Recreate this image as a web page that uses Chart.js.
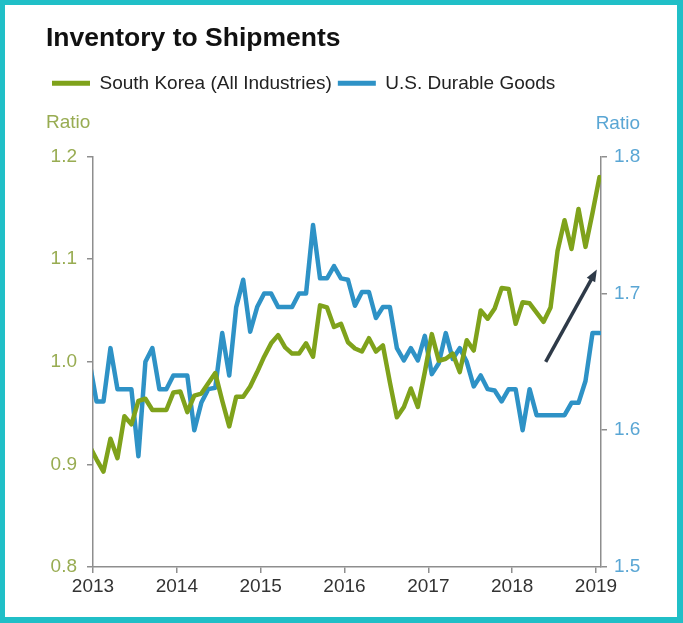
<!DOCTYPE html>
<html>
<head>
<meta charset="utf-8">
<title>Inventory to Shipments</title>
<script src="https://cdn.jsdelivr.net/npm/chart.js@4.4.1/dist/chart.umd.min.js"></script>
<style>
  html, body { margin: 0; padding: 0; background: #fff; }
  #wrap { position: relative; width: 683px; height: 623px; }
  #frame {
    position: absolute; inset: 0; pointer-events: none;
    border-style: solid; border-color: #20bfc7;
    border-width: 5px 6px 6px 5px;
  }
  canvas { display: block; }
</style>
</head>
<body>
<div id="wrap">
  <canvas id="chart" width="683" height="623"></canvas>
  <div id="frame"></div>
</div>
<script>
// monthly readings, first point half a month before the 2013 tick
const startYear = 2013;
const yearTicks = [2013, 2014, 2015, 2016, 2017, 2018, 2019];

const southKorea = [
  0.918, 0.905, 0.893, 0.925, 0.906, 0.947, 0.939, 0.962, 0.964, 0.953, 0.953, 0.953,
  0.970, 0.971, 0.951, 0.967, 0.969, 0.979, 0.989, 0.962, 0.937, 0.966, 0.966, 0.976,
  0.990, 1.005, 1.018, 1.026, 1.014, 1.008, 1.008, 1.018, 1.005, 1.055, 1.053, 1.034,
  1.037, 1.019, 1.013, 1.010, 1.023, 1.010, 1.016, 0.980, 0.946, 0.956, 0.974, 0.956,
  0.990, 1.027, 1.001, 1.003, 1.008, 0.990, 1.021, 1.011, 1.050, 1.042, 1.052, 1.072,
  1.071, 1.037, 1.058, 1.057, 1.048, 1.039, 1.053, 1.108, 1.138, 1.110, 1.149, 1.112,
  1.145, 1.180
];

const usDurable = [
  1.650, 1.621, 1.621, 1.660, 1.630, 1.630, 1.630, 1.581, 1.650, 1.660, 1.630, 1.630,
  1.640, 1.640, 1.640, 1.600, 1.620, 1.630, 1.631, 1.671, 1.640, 1.690, 1.710, 1.672,
  1.690, 1.700, 1.700, 1.690, 1.690, 1.690, 1.700, 1.700, 1.750, 1.711, 1.711, 1.720,
  1.711, 1.710, 1.691, 1.701, 1.701, 1.682, 1.690, 1.690, 1.660, 1.651, 1.660, 1.651,
  1.669, 1.641, 1.649, 1.671, 1.652, 1.660, 1.650, 1.632, 1.640, 1.630, 1.629, 1.621,
  1.630, 1.630, 1.600, 1.630, 1.611, 1.611, 1.611, 1.611, 1.611, 1.620, 1.620, 1.636,
  1.671, 1.671
];

// trend arrow, in data units (x = year, y = left axis)
const arrowFrom = [2018.4, 1.0];
const arrowTo = [2019.01, 1.09];

const GREEN = '#7fa21b';
const BLUE = '#2e92c6';
const GREEN_TEXT = '#98ac52';
const BLUE_TEXT = '#5aa6d4';
const AXIS = '#8e8e8e';
const FONT = "'Liberation Sans', Arial, sans-serif";

function toPoints(values) {
  return values.map((v, i) => ({ x: startYear + (i - 0.5) / 12, y: v }));
}

const extraText = {
  id: 'extraText',
  afterDatasetsDraw(chart) {
    const { ctx, scales } = chart;
    // arrow
    const x0 = scales.x.getPixelForValue(arrowFrom[0]);
    const y0 = scales.y.getPixelForValue(arrowFrom[1]);
    const x1 = scales.x.getPixelForValue(arrowTo[0]);
    const y1 = scales.y.getPixelForValue(arrowTo[1]);
    const ang = Math.atan2(y1 - y0, x1 - x0);
    const head = 13;
    ctx.save();
    ctx.strokeStyle = '#2e3a48';
    ctx.fillStyle = '#2e3a48';
    ctx.lineWidth = 3.5;
    ctx.beginPath();
    ctx.moveTo(x0, y0);
    ctx.lineTo(x1 - Math.cos(ang) * head * 0.8, y1 - Math.sin(ang) * head * 0.8);
    ctx.stroke();
    ctx.beginPath();
    ctx.moveTo(x1, y1);
    ctx.lineTo(x1 - head * Math.cos(ang - 0.38), y1 - head * Math.sin(ang - 0.38));
    ctx.lineTo(x1 - head * Math.cos(ang + 0.38), y1 - head * Math.sin(ang + 0.38));
    ctx.closePath();
    ctx.fill();
    ctx.restore();
  },
  afterDraw(chart) {
    const { ctx, chartArea } = chart;
    ctx.save();
    ctx.font = `19px ${FONT}`;
    ctx.fillStyle = BLUE_TEXT;
    ctx.textAlign = 'right';
    ctx.textBaseline = 'middle';
    ctx.fillText('Ratio', chartArea.right + 39, chartArea.top - 33);
    ctx.restore();
  }
};

new Chart(document.getElementById('chart'), {
  type: 'line',
  data: {
    datasets: [
      {
        label: 'South Korea (All Industries)',
        data: toPoints(southKorea),
        borderColor: GREEN,
        backgroundColor: GREEN,
        borderWidth: 4.5,
        borderJoinStyle: 'round',
        borderCapStyle: 'round',
        pointRadius: 0,
        tension: 0,
        yAxisID: 'y'
      },
      {
        label: 'U.S. Durable Goods',
        data: toPoints(usDurable),
        borderColor: BLUE,
        backgroundColor: BLUE,
        borderWidth: 4.5,
        borderJoinStyle: 'round',
        borderCapStyle: 'round',
        pointRadius: 0,
        tension: 0,
        yAxisID: 'y2'
      }
    ]
  },
  options: {
    animation: false,
    responsive: false,
    layout: { padding: { left: 46, right: 0, top: 0, bottom: 0 } },
    plugins: {
      title: {
        display: true,
        text: 'Inventory to Shipments',
        align: 'start',
        color: '#111',
        font: { family: FONT, size: 26.5, weight: 'bold' },
        padding: { top: 23, bottom: 13 }
      },
      legend: {
        display: true,
        align: 'start',
        labels: {
          boxWidth: 38,
          boxHeight: 5,
          padding: 6,
          color: '#222',
          font: { family: FONT, size: 19 },
          generateLabels(chart) {
            return Chart.defaults.plugins.legend.labels.generateLabels(chart)
              .map((item) => ({ ...item, lineWidth: 0 }));
          }
        }
      },
      subtitle: {
        display: true,
        text: 'Ratio',
        align: 'start',
        weight: 500,
        color: GREEN_TEXT,
        font: { family: FONT, size: 19 },
        padding: { top: 9, bottom: 22 }
      },
      tooltip: { enabled: false }
    },
    scales: {
      x: {
        type: 'linear',
        min: 2013,
        max: 2019.06,
        afterBuildTicks(scale) {
          scale.ticks = yearTicks.map((v) => ({ value: v }));
        },
        afterFit(scale) { scale.height = 56; },
        ticks: {
          color: '#333',
          font: { family: FONT, size: 19 },
          padding: 2,
          maxRotation: 0,
          autoSkip: false,
          callback: (v) => String(v)
        },
        grid: { drawOnChartArea: false, color: AXIS, tickLength: 6, lineWidth: 1.5 },
        border: { color: AXIS, width: 1.5 }
      },
      y: {
        position: 'left',
        min: 0.8,
        max: 1.2,
        afterFit(scale) { scale.width = 47; },
        ticks: {
          stepSize: 0.1,
          color: GREEN_TEXT,
          font: { family: FONT, size: 19 },
          padding: 10,
          callback: (v) => v.toFixed(1)
        },
        grid: { drawOnChartArea: false, color: AXIS, tickLength: 6, lineWidth: 1.5 },
        border: { color: AXIS, width: 1.5 }
      },
      y2: {
        position: 'right',
        min: 1.5,
        max: 1.8,
        afterFit(scale) { scale.width = 82; },
        ticks: {
          stepSize: 0.1,
          color: BLUE_TEXT,
          font: { family: FONT, size: 19 },
          padding: 7,
          callback: (v) => v.toFixed(1)
        },
        grid: { drawOnChartArea: false, color: AXIS, tickLength: 6, lineWidth: 1.5 },
        border: { color: AXIS, width: 1.5 }
      }
    }
  },
  plugins: [extraText]
});
</script>
</body>
</html>
